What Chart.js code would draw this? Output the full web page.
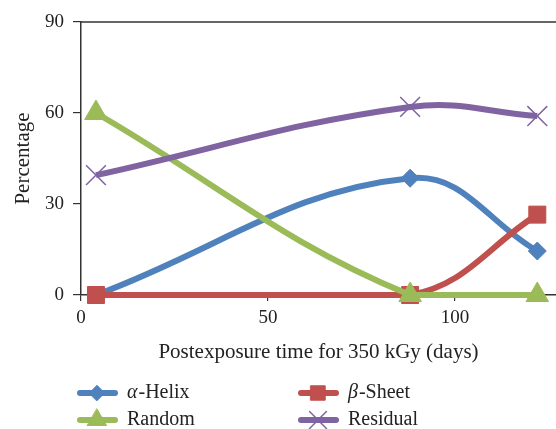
<!DOCTYPE html>
<html>
<head>
<meta charset="utf-8">
<script src="https://cdn.jsdelivr.net/npm/chart.js@4.4.1/dist/chart.umd.min.js"></script>
<style>
  html, body { margin: 0; padding: 0; background: #fff; }
</style>
</head>
<body>
<canvas id="chart" width="556" height="429"></canvas>
<script>
// Dados
const days = [4, 88, 122];
const helix = [0, 38.5, 14.5];
const sheet = [0, 0, 26.5];
const random = [60, 0, 0];
const residual = [39.5, 62, 59];
const seriesNames = ['α-Helix', 'β-Sheet', 'Random', 'Residual'];
const yTicks = [0, 30, 60, 90];
const xTicks = [0, 50, 100];

const FONT = '"Liberation Serif", "DejaVu Serif", serif';
const AXIS = '#333333';

function pts(values) {
    return days.map((d, i) => ({ x: d, y: values[i] }));
}

function serie(label, values, color, style, radius, bw, order) {
    return {
        label: label,
        data: pts(values),
        borderColor: color,
        backgroundColor: color,
        borderWidth: 6,
        tension: 0.4,
        pointStyle: style,
        pointRadius: radius,
        pointBackgroundColor: color,
        pointBorderColor: color,
        pointBorderWidth: bw,
        clip: false,
        order: order
    };
}

//Linha superior do quadro
const topLine = {
    id: 'topLine',
    afterDraw(chart) {
        const { ctx, chartArea } = chart;
        ctx.save();
        ctx.strokeStyle = AXIS;
        ctx.lineWidth = 1.5;
        ctx.beginPath();
        ctx.moveTo(chartArea.left, chartArea.top);
        ctx.lineTo(chartArea.right, chartArea.top);
        ctx.stroke();
        ctx.restore();
    }
};

//Legenda em duas colunas embaixo
const bottomLegend = {
    id: 'bottomLegend',
    afterDraw(chart) {
        const ctx = chart.ctx;
        chart.data.datasets.forEach((ds, i) => {
            const x0 = (i % 2 === 0) ? 77 : 298;
            const y0 = 393 + Math.floor(i / 2) * 27;
            ctx.save();
            ctx.strokeStyle = ds.borderColor;
            ctx.lineWidth = 6;
            ctx.lineCap = 'round';
            ctx.beginPath();
            ctx.moveTo(x0 + 3, y0);
            ctx.lineTo(x0 + 38, y0);
            ctx.stroke();
            ctx.fillStyle = ds.pointBackgroundColor;
            ctx.strokeStyle = ds.pointBorderColor;
            ctx.lineWidth = ds.pointBorderWidth;
            Chart.helpers.drawPoint(ctx, {
                pointStyle: ds.pointStyle,
                radius: ds.pointRadius * 0.85,
                borderWidth: ds.pointBorderWidth,
                rotation: 0
            }, x0 + 20, y0);

            ctx.fillStyle = '#222';
            ctx.textBaseline = 'middle';
            let tx = x0 + 50;
            let text = ds.label;
            if (/^[αβ]/.test(text)) {
                ctx.font = 'italic 20px ' + FONT;
                ctx.fillText(text[0], tx, y0);
                tx += ctx.measureText(text[0]).width + 1;
                text = text.slice(1);
            }
            ctx.font = '20px ' + FONT;
            ctx.fillText(text, tx, y0);
            ctx.restore();
        });
    }
};

let ctx = document.getElementById('chart');

let chart = new Chart(ctx, {
    type: 'line',
    data: {
        datasets: [
            serie(seriesNames[0], helix, '#4F81BD', 'rectRot', 9, 1, 4),
            serie(seriesNames[1], sheet, '#C0504D', 'rect', 12, 1, 3),
            serie(seriesNames[2], random, '#9BBB59', 'triangle', 13, 1, 2),
            serie(seriesNames[3], residual, '#8064A2', 'crossRot', 14, 1.5, 1)
        ]
    },
    options: {
        responsive: false,
        animation: false,
        layout: {
            autoPadding: false,
            padding: { top: 22, right: 0, bottom: 63, left: 0 }
        },
        plugins: {
            legend: { display: false },
            tooltip: { enabled: false }
        },
        scales: {
            x: {
                type: 'linear',
                min: 0,
                max: 127,
                afterFit: (s) => { s.height = 71; },
                afterBuildTicks: (s) => { s.ticks = xTicks.map(v => ({ value: v })); },
                border: { display: true, color: AXIS, width: 1.5 },
                grid: { drawOnChartArea: false, tickLength: 6, color: AXIS, lineWidth: 1.2 },
                ticks: { color: '#222', padding: 6, font: { family: FONT, size: 19 } },
                title: {
                    display: true,
                    text: 'Postexposure time for 350 kGy (days)',
                    color: '#222',
                    padding: { top: 0, bottom: 1 },
                    font: { family: FONT, size: 21 }
                }
            },
            y: {
                min: 0,
                max: 90,
                afterFit: (s) => { s.width = 81; },
                afterBuildTicks: (s) => { s.ticks = yTicks.map(v => ({ value: v })); },
                border: { display: true, color: AXIS, width: 1.5 },
                grid: { drawOnChartArea: false, tickLength: 8, color: AXIS, lineWidth: 1.2 },
                ticks: { color: '#222', padding: 9, font: { family: FONT, size: 19 } },
                title: {
                    display: true,
                    text: 'Percentage',
                    color: '#222',
                    padding: { top: 11, bottom: 0 },
                    font: { family: FONT, size: 21 }
                }
            }
        }
    },
    plugins: [topLine, bottomLegend]
});
</script>
</body>
</html>
